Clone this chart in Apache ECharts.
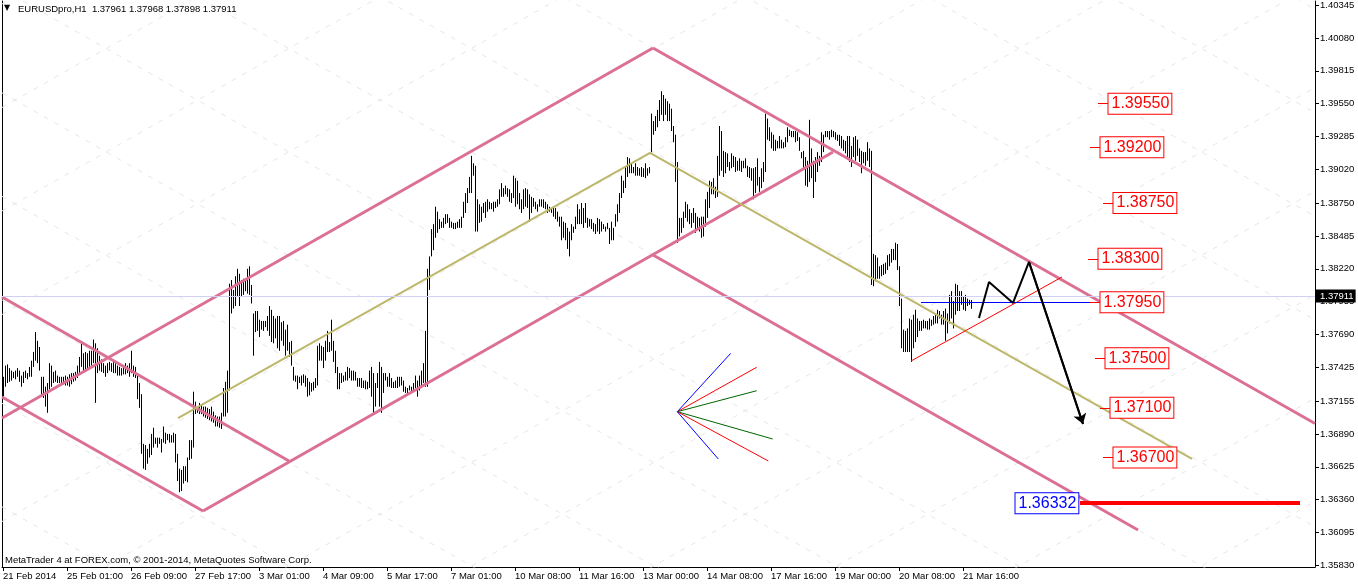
<!DOCTYPE html>
<html><head><meta charset="utf-8">
<script src="https://cdn.jsdelivr.net/npm/echarts@6/dist/echarts.min.js"></script>
<style>html,body{margin:0;padding:0;background:#fff}#c{width:1358px;height:587px}</style>
</head><body><div id="c"></div>
<script>
// ---- axis ticks ----
const xTickIdx = [0,32,64,96,128,160,192,224,256,288,320,352,384,416,448,480];
const xLabels = ["21 Feb 2014","25 Feb 01:00","26 Feb 09:00","27 Feb 17:00","3 Mar 01:00","4 Mar 09:00","5 Mar 17:00","7 Mar 01:00","10 Mar 08:00","11 Mar 16:00","13 Mar 00:00","14 Mar 08:00","17 Mar 16:00","19 Mar 00:00","20 Mar 08:00","21 Mar 16:00"];
const yTicks = [1.40345,1.40080,1.39815,1.39550,1.39285,1.39020,1.38750,1.38485,1.38220,1.37955,1.37690,1.37425,1.37155,1.36890,1.36625,1.36360,1.36095,1.35830];

// ---- EURUSD H1 bars (high / low), bar index 0 = 21 Feb 2014 17:00 ----
const highs = [
1.3735,1.3744,1.3745,1.3742,1.3740,1.3739,1.3740,1.3742,1.3740,1.3736,
1.3739,1.3740,1.3738,1.3743,1.3748,1.3755,1.3771,1.3764,1.3759,1.3735,
1.3735,1.3727,1.3730,1.3746,1.3744,1.3739,1.3740,1.3736,1.3735,1.3735,
1.3735,1.3736,1.3735,1.3737,1.3738,1.3738,1.3739,1.3744,1.3751,1.3762,
1.3754,1.3755,1.3754,1.3756,1.3756,1.3765,1.3762,1.3758,1.3752,1.3749,
1.3746,1.3744,1.3746,1.3747,1.3746,1.3747,1.3746,1.3744,1.3743,1.3742,
1.3743,1.3746,1.3744,1.3746,1.3756,1.3744,1.3743,1.3738,1.3730,1.3721,
1.3681,1.3680,1.3677,1.3681,1.3689,1.3694,1.3686,1.3686,1.3686,1.3685,
1.3695,1.3690,1.3689,1.3689,1.3688,1.3690,1.3689,1.3673,1.3661,1.3660,
1.3663,1.3663,1.3670,1.3684,1.3684,1.3723,1.3715,1.3711,1.3714,1.3713,
1.3711,1.3711,1.3710,1.3709,1.3711,1.3707,1.3704,1.3703,1.3703,1.3706,
1.3726,1.3731,1.3740,1.3810,1.3813,1.3805,1.3816,1.3822,1.3818,1.3813,
1.3814,1.3813,1.3822,1.3824,1.3809,1.3786,1.3788,1.3788,1.3781,1.3780,
1.3780,1.3780,1.3784,1.3792,1.3789,1.3784,1.3782,1.3784,1.3784,1.3779,
1.3780,1.3773,1.3777,1.3763,1.3764,1.3743,1.3736,1.3736,1.3735,1.3736,
1.3737,1.3736,1.3734,1.3731,1.3730,1.3731,1.3734,1.3760,1.3762,1.3760,
1.3759,1.3764,1.3772,1.3763,1.3781,1.3764,1.3756,1.3743,1.3738,1.3738,
1.3736,1.3739,1.3743,1.3742,1.3740,1.3740,1.3739,1.3734,1.3734,1.3734,
1.3732,1.3732,1.3731,1.3740,1.3743,1.3738,1.3730,1.3738,1.3747,1.3743,
1.3738,1.3738,1.3735,1.3738,1.3734,1.3731,1.3732,1.3735,1.3735,1.3735,
1.3732,1.3727,1.3726,1.3728,1.3727,1.3730,1.3736,1.3732,1.3736,1.3740,
1.3746,1.3772,1.3822,1.3832,1.3854,1.3858,1.3872,1.3868,1.3862,1.3860,
1.3863,1.3866,1.3866,1.3863,1.3860,1.3859,1.3859,1.3860,1.3862,1.3864,
1.3876,1.3883,1.3887,1.3896,1.3913,1.3907,1.3905,1.3878,1.3874,1.3872,
1.3875,1.3876,1.3878,1.3876,1.3875,1.3876,1.3876,1.3878,1.3886,1.3891,
1.3887,1.3889,1.3887,1.3886,1.3883,1.3897,1.3895,1.3893,1.3883,1.3878,
1.3886,1.3887,1.3886,1.3882,1.3880,1.3879,1.3876,1.3874,1.3878,1.3878,
1.3878,1.3876,1.3874,1.3872,1.3871,1.3872,1.3871,1.3868,1.3864,1.3864,
1.3860,1.3859,1.3855,1.3852,1.3858,1.3856,1.3864,1.3874,1.3870,1.3875,
1.3871,1.3875,1.3863,1.3862,1.3862,1.3859,1.3858,1.3863,1.3862,1.3860,
1.3858,1.3856,1.3859,1.3855,1.3860,1.3855,1.3866,1.3874,1.3883,1.3897,
1.3893,1.3904,1.3912,1.3911,1.3907,1.3904,1.3907,1.3904,1.3903,1.3904,
1.3903,1.3907,1.3903,1.3904,1.3947,1.3941,1.3945,1.3950,1.3958,1.3965,
1.3962,1.3959,1.3957,1.3955,1.3951,1.3937,1.3930,1.3908,1.3863,1.3863,
1.3868,1.3876,1.3874,1.3870,1.3867,1.3871,1.3867,1.3864,1.3863,1.3864,
1.3864,1.3878,1.3884,1.3893,1.3892,1.3895,1.3888,1.3913,1.3937,1.3933,
1.3917,1.3916,1.3915,1.3908,1.3915,1.3913,1.3912,1.3909,1.3911,1.3909,
1.3909,1.3911,1.3905,1.3904,1.3903,1.3903,1.3904,1.3911,1.3896,1.3903,
1.3908,1.3947,1.3943,1.3936,1.3932,1.3930,1.3926,1.3925,1.3929,1.3926,
1.3924,1.3928,1.3936,1.3934,1.3933,1.3933,1.3933,1.3932,1.3928,1.3916,
1.3917,1.3912,1.3909,1.3942,1.3919,1.3909,1.3912,1.3916,1.3913,1.3932,
1.3930,1.3933,1.3933,1.3933,1.3934,1.3933,1.3932,1.3930,1.3930,1.3929,
1.3926,1.3925,1.3929,1.3929,1.3921,1.3928,1.3929,1.3926,1.3919,1.3917,
1.3916,1.3916,1.3924,1.3919,1.3917,1.3834,1.3833,1.3831,1.3824,1.3825,
1.3826,1.3827,1.3833,1.3834,1.3838,1.3838,1.3843,1.3842,1.3824,1.3798,
1.3773,1.3772,1.3774,1.3782,1.3781,1.3785,1.3789,1.3782,1.3780,1.3780,
1.3781,1.3780,1.3780,1.3782,1.3781,1.3784,1.3785,1.3789,1.3788,1.3785,
1.3788,1.3790,1.3786,1.3801,1.3804,1.3796,1.3810,1.3809,1.3804,1.3804,
1.3800,1.3801,1.3798,1.3797,1.37968];
const lows = [
1.3719,1.3727,1.3730,1.3731,1.3732,1.3734,1.3733,1.3735,1.3731,1.3727,
1.3730,1.3734,1.3733,1.3735,1.3735,1.3743,1.3748,1.3746,1.3740,1.3719,
1.3718,1.3711,1.3706,1.3725,1.3727,1.3730,1.3731,1.3730,1.3730,1.3729,
1.3729,1.3728,1.3728,1.3727,1.3729,1.3731,1.3732,1.3734,1.3738,1.3743,
1.3739,1.3740,1.3742,1.3743,1.3744,1.3746,1.3714,1.3738,1.3740,1.3739,
1.3738,1.3735,1.3738,1.3740,1.3739,1.3738,1.3738,1.3736,1.3736,1.3736,
1.3737,1.3737,1.3738,1.3735,1.3738,1.3735,1.3734,1.3717,1.3710,1.3673,
1.3661,1.3660,1.3665,1.3670,1.3672,1.3678,1.3681,1.3678,1.3681,1.3674,
1.3682,1.3681,1.3684,1.3682,1.3682,1.3682,1.3666,1.3651,1.3642,1.3643,
1.3649,1.3651,1.3650,1.3668,1.3669,1.3678,1.3705,1.3706,1.3705,1.3705,
1.3703,1.3702,1.3701,1.3700,1.3699,1.3698,1.3695,1.3695,1.3694,1.3693,
1.3703,1.3703,1.3706,1.3724,1.3786,1.3790,1.3792,1.3800,1.3792,1.3800,
1.3801,1.3804,1.3802,1.3801,1.3794,1.3752,1.3771,1.3772,1.3767,1.3773,
1.3772,1.3775,1.3772,1.3768,1.3763,1.3762,1.3766,1.3758,1.3756,1.3764,
1.3760,1.3752,1.3756,1.3751,1.3744,1.3732,1.3731,1.3725,1.3730,1.3728,
1.3730,1.3727,1.3719,1.3720,1.3723,1.3724,1.3726,1.3728,1.3748,1.3748,
1.3742,1.3748,1.3755,1.3755,1.3756,1.3747,1.3738,1.3725,1.3725,1.3730,
1.3731,1.3732,1.3732,1.3734,1.3732,1.3732,1.3732,1.3727,1.3727,1.3726,
1.3726,1.3725,1.3725,1.3726,1.3719,1.3706,1.3711,1.3726,1.3711,1.3706,
1.3722,1.3732,1.3727,1.3727,1.3726,1.3726,1.3726,1.3726,1.3727,1.3728,
1.3723,1.3722,1.3722,1.3724,1.3723,1.3723,1.3726,1.3719,1.3724,1.3727,
1.3730,1.3727,1.3727,1.3805,1.3832,1.3837,1.3847,1.3851,1.3854,1.3855,
1.3855,1.3858,1.3859,1.3855,1.3855,1.3854,1.3854,1.3855,1.3855,1.3855,
1.3863,1.3867,1.3875,1.3883,1.3883,1.3897,1.3852,1.3852,1.3859,1.3860,
1.3867,1.3863,1.3868,1.3870,1.3870,1.3868,1.3871,1.3872,1.3874,1.3880,
1.3880,1.3882,1.3880,1.3876,1.3875,1.3879,1.3872,1.3874,1.3870,1.3867,
1.3870,1.3872,1.3871,1.3860,1.3867,1.3872,1.3870,1.3868,1.3872,1.3872,
1.3871,1.3870,1.3867,1.3868,1.3867,1.3864,1.3862,1.3860,1.3856,1.3845,
1.3847,1.3845,1.3838,1.3832,1.3845,1.3851,1.3854,1.3858,1.3858,1.3858,
1.3855,1.3859,1.3855,1.3856,1.3854,1.3852,1.3850,1.3852,1.3850,1.3852,
1.3854,1.3852,1.3854,1.3842,1.3845,1.3845,1.3856,1.3860,1.3867,1.3879,
1.3883,1.3887,1.3896,1.3899,1.3899,1.3899,1.3897,1.3897,1.3897,1.3896,
1.3896,1.3895,1.3897,1.3899,1.3916,1.3930,1.3933,1.3936,1.3941,1.3946,
1.3941,1.3946,1.3941,1.3941,1.3933,1.3924,1.3892,1.3843,1.3848,1.3851,
1.3855,1.3863,1.3860,1.3858,1.3855,1.3859,1.3851,1.3854,1.3852,1.3847,
1.3848,1.3856,1.3863,1.3871,1.3882,1.3882,1.3879,1.3880,1.3897,1.3901,
1.3896,1.3899,1.3904,1.3901,1.3903,1.3904,1.3900,1.3901,1.3901,1.3900,
1.3903,1.3903,1.3896,1.3895,1.3893,1.3878,1.3883,1.3889,1.3884,1.3887,
1.3892,1.3900,1.3926,1.3925,1.3919,1.3917,1.3917,1.3919,1.3919,1.3919,
1.3919,1.3920,1.3924,1.3929,1.3928,1.3928,1.3924,1.3925,1.3917,1.3911,
1.3903,1.3889,1.3888,1.3892,1.3895,1.3879,1.3892,1.3900,1.3905,1.3908,
1.3916,1.3928,1.3928,1.3926,1.3928,1.3928,1.3926,1.3925,1.3921,1.3919,
1.3917,1.3915,1.3912,1.3908,1.3904,1.3912,1.3909,1.3913,1.3908,1.3899,
1.3907,1.3905,1.3909,1.3904,1.3809,1.3808,1.3812,1.3814,1.3814,1.3816,
1.3817,1.3818,1.3821,1.3824,1.3827,1.3829,1.3829,1.3821,1.3792,1.3758,
1.3755,1.3755,1.3755,1.3755,1.3747,1.3758,1.3763,1.3767,1.3772,1.3772,
1.3774,1.3774,1.3773,1.3773,1.3776,1.3777,1.3778,1.3778,1.3782,1.3777,
1.3777,1.3764,1.3770,1.3778,1.3782,1.3774,1.3785,1.3788,1.3788,1.3793,
1.3789,1.3788,1.3792,1.3793,1.37898];
const lastQuote = ["1.37961","1.37968","1.37898","1.37911"];
const bidPrice = 1.37911;

// ---- drawn objects (bar index, price) ----
const channelLines = [
  [[-0.5,1.37993],[143,1.36672]],
  [[-0.5,1.37187],[100,1.36269]],
  [[100,1.36269],[415,1.39161]],
  [[-0.5,1.37018],[325,1.39999]],
  [[325,1.39999],[656,1.36974]],
  [[325,1.38331],[567.5,1.36116]]
];
const midLine = [[87.5,1.37018],[323.5,1.39153],[594.5,1.36688]];
const fanOrigin = [337.15,1.37069];
const fanEnds = [[363.85,1.37539],[376.85,1.37427],[376.85,1.37238],[384.85,1.36849],[382.65,1.36672],[357.65,1.36688]];
const fanColors = ['#0000FF','#FF0000','#006400','#006400','#FF0000','#0000FF'];
const triLine = [[454,1.37477],[529.5,1.38154]];
const blueLevel = [[459,1.3795],[548,1.3795]];
const zigzag = [[488,1.37824],[493,1.38114],[505,1.37945],[513,1.38275],[540,1.36970]];
const levelPrices = [1.3955,1.3920,1.3875,1.3830,1.3795,1.3750,1.3710,1.3670];
const levelIdx = [552.5,548.5,555,547.5,548.5,551,553.5,555];
const targetPrice = 1.36332;
const targetBoxIdx = 506;
const targetLine = [[538.5,1.36332],[648.5,1.36332]];
const gann = {ascAnchor:1.37018, descAnchor:1.42972, step:0.008337, slope:0.00009134};

const X_MIN = -0.5, X_MAX = 656, Y_MIN = 1.35818, Y_MAX = 1.40377;
const FONT = 'Liberation Sans, Arial, sans-serif';

const gannLines = [];
for (let k = -4; k <= 8; k++) {
  const pa = gann.ascAnchor - k * gann.step;
  gannLines.push({coords: [[X_MIN, pa], [X_MAX, pa + gann.slope * (X_MAX - X_MIN)]]});
  const pd = gann.descAnchor - k * gann.step;
  gannLines.push({coords: [[X_MIN, pd], [X_MAX, pd - gann.slope * (X_MAX - X_MIN)]]});
}

const bars = highs.map((h, i) => [i, h, lows[i]]);
const fanData = fanEnds.map((e, k) => ({coords: [fanOrigin, e], lineStyle: {color: fanColors[k], width: 1, opacity: 1}}));
fanData.push({coords: triLine, lineStyle: {color: '#FF0000', width: 1, opacity: 1}});
fanData.push({coords: blueLevel, lineStyle: {color: '#0000FF', width: 1, opacity: 1}});
const stubData = levelPrices.map((p, k) => ({coords: [[levelIdx[k] - 5, p], [levelIdx[k], p]]}));
const labelData = levelPrices.map((p, k) => ({value: [levelIdx[k], p], name: p.toFixed(5)}));
labelData.push({value: [targetBoxIdx, targetPrice], name: targetPrice.toFixed(5),
  label: {color: '#0000FF', borderColor: '#0000FF'}});

const chart = echarts.init(document.getElementById('c'));
chart.setOption({
  animation: false,
  backgroundColor: '#fff',
  grid: {left: 2, right: 43, top: 1, bottom: 20},
  xAxis: {
    type: 'value', min: X_MIN, max: X_MAX, position: 'bottom',
    axisLine: {show: true, onZero: false, lineStyle: {color: '#000', width: 1}},
    axisTick: {show: true, length: 4, customValues: xTickIdx, lineStyle: {color: '#000'}},
    axisLabel: {customValues: xTickIdx, align: 'left', margin: 4, color: '#000', fontSize: 9.5, fontFamily: FONT,
      formatter: v => { const k = xTickIdx.indexOf(Math.round(v)); return k >= 0 ? xLabels[k] : ''; }},
    splitLine: {show: false}
  },
  yAxis: [{
    type: 'value', min: Y_MIN, max: Y_MAX, position: 'right',
    axisLine: {show: true, onZero: false, lineStyle: {color: '#000', width: 1}},
    axisTick: {show: true, length: 4, customValues: yTicks, lineStyle: {color: '#000'}},
    axisLabel: {customValues: yTicks, margin: 5, color: '#000', fontSize: 9.5, fontFamily: FONT,
      formatter: v => v.toFixed(5)},
    splitLine: {show: false}
  }, {
    type: 'value', min: Y_MIN, max: Y_MAX, position: 'left',
    axisLine: {show: true, onZero: false, lineStyle: {color: '#000', width: 1}},
    axisTick: {show: false}, axisLabel: {show: false}, splitLine: {show: false}
  }],
  graphic: [
    {type: 'text', left: 4, top: 4, z: 100, style: {text: '▼', font: '8px DejaVu Sans', fill: '#000'}},
    {type: 'text', left: 18, top: 4, z: 100, style: {text: 'EURUSDpro,H1  ' + lastQuote.join(' '), font: '9.5px ' + FONT, fill: '#000'}},
    {type: 'text', left: 5, top: 555, z: 100, style: {text: 'MetaTrader 4 at FOREX.com, © 2001-2014, MetaQuotes Software Corp.', font: '9.5px ' + FONT, fill: '#000'}}
  ],
  series: [
    {type: 'lines', coordinateSystem: 'cartesian2d', z: 1, silent: true, clip: true,
      lineStyle: {color: '#e6e6e6', width: 1, type: [5, 7], opacity: 1}, data: gannLines},
    {type: 'custom', z: 2, silent: true, data: bars, encode: {x: 0, y: [1, 2]},
      renderItem: (params, api) => {
        const hi = api.coord([api.value(0), api.value(1)]);
        const lo = api.coord([api.value(0), api.value(2)]);
        const x = Math.round(hi[0]) + 0.5;
        return {type: 'line', shape: {x1: x, y1: hi[1], x2: x, y2: lo[1]}, style: {stroke: '#000', lineWidth: 1}};
      },
      markLine: {silent: true, symbol: 'none', animation: false,
        data: [{yAxis: bidPrice}],
        lineStyle: {color: '#d0d0f4', width: 1, type: 'solid'},
        label: {show: true, position: 'end', distance: 0, formatter: bidPrice.toFixed(5), color: '#fff',
          backgroundColor: '#000', padding: [2, 2, 1, 5], fontSize: 9.5, fontFamily: FONT}}
    },
    {type: 'lines', coordinateSystem: 'cartesian2d', z: 3, silent: true, clip: true,
      lineStyle: {color: '#DB7093', width: 3, opacity: 1}, data: channelLines.map(c => ({coords: c}))},
    {type: 'line', z: 4, silent: true, data: midLine, symbol: 'none', lineStyle: {color: '#BDB76B', width: 2}},
    {type: 'lines', coordinateSystem: 'cartesian2d', z: 5, silent: true, clip: true, data: fanData},
    {type: 'lines', coordinateSystem: 'cartesian2d', z: 5, silent: true, clip: true,
      lineStyle: {color: '#FF0000', width: 4, opacity: 1}, data: [{coords: targetLine}]},
    {type: 'lines', coordinateSystem: 'cartesian2d', z: 5, silent: true,
      lineStyle: {color: '#FF0000', width: 1, opacity: 1}, data: stubData},
    {type: 'line', z: 6, silent: true, data: zigzag, symbol: 'none', lineStyle: {color: '#000', width: 2},
      markLine: {silent: true, animation: false, symbol: ['none', 'arrow'], symbolSize: 10,
        lineStyle: {color: '#000', width: 2, type: 'solid'}, label: {show: false},
        data: [[{coord: zigzag[3]}, {coord: zigzag[4]}]]}},
    {type: 'scatter', z: 7, silent: true, symbolSize: 1, itemStyle: {color: 'rgba(0,0,0,0)'}, data: labelData,
      label: {show: true, opacity: 1, position: 'right', distance: 0, formatter: '{b}', fontSize: 16, fontFamily: FONT,
        color: '#FF0000', borderColor: '#FF0000', borderWidth: 1, backgroundColor: '#fff',
        padding: [1, 2, 1, 3], lineHeight: 18}}
  ]
});
</script>
</body></html>
